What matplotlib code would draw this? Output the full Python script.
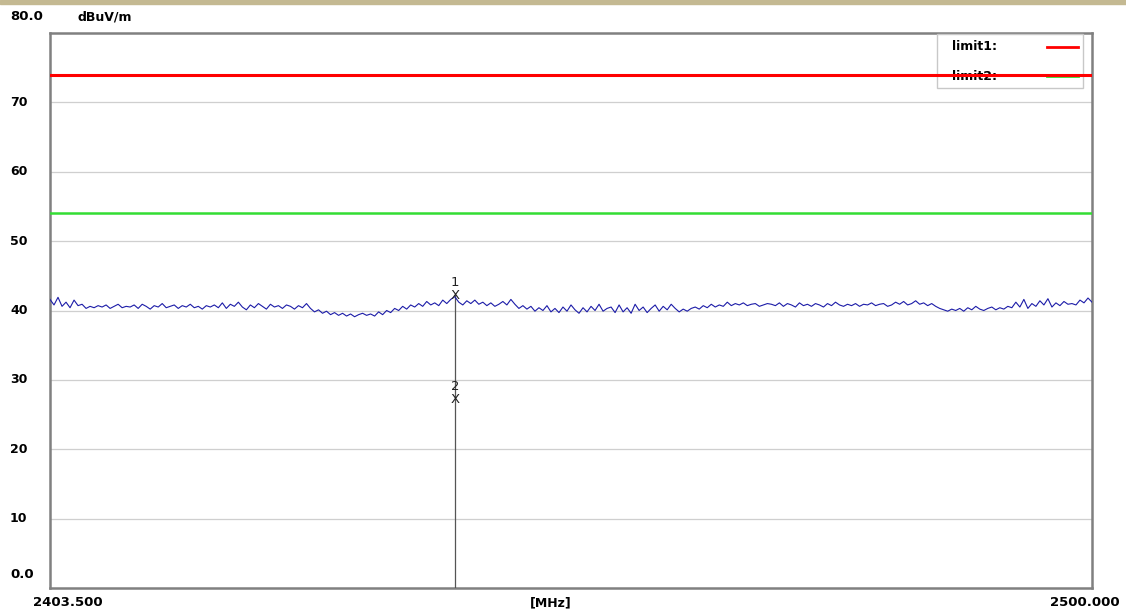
import numpy as np
import matplotlib.pyplot as plt
from matplotlib.patches import Rectangle
from matplotlib.transforms import blended_transform_factory

# sweep: 2403.5 .. 2500 MHz, level in dBuV/m
f_start = 2403.5
f_stop = 2500.0
level = [
    41.6, 40.8, 41.9, 40.6, 41.2, 40.4, 41.5, 40.7, 40.9, 40.3, 40.6, 40.4, 40.7, 40.5, 40.8, 40.3, 40.6, 40.9, 40.4, 40.6,
    40.5, 40.8, 40.3, 40.9, 40.6, 40.2, 40.7, 40.5, 41.0, 40.4, 40.6, 40.8, 40.3, 40.7, 40.5, 40.9, 40.4, 40.6, 40.2, 40.7,
    40.5, 40.8, 40.4, 41.1, 40.3, 40.9, 40.6, 41.2, 40.5, 40.1, 40.8, 40.4, 41.0, 40.6, 40.2, 40.9, 40.5, 40.7, 40.3, 40.8,
    40.6, 40.2, 40.7, 40.4, 41.0, 40.3, 39.8, 40.1, 39.6, 39.9, 39.4, 39.7, 39.3, 39.6, 39.2, 39.5, 39.1, 39.4, 39.6, 39.3,
    39.5, 39.2, 39.8, 39.4, 40.0, 39.7, 40.3, 40.0, 40.6, 40.2, 40.8, 40.5, 41.0, 40.6, 41.3, 40.8, 41.1, 40.7, 41.5, 41.0,
    41.6, 42.0, 41.2, 40.8, 41.4, 41.0, 41.5, 40.9, 41.2, 40.7, 41.1, 40.6, 40.9, 41.3, 40.8, 41.6, 40.9, 40.3, 40.7, 40.2,
    40.6, 39.9, 40.4, 40.0, 40.7, 39.8, 40.3, 39.7, 40.5, 39.9, 40.8, 40.1, 39.6, 40.4, 39.8, 40.6, 40.0, 40.9, 39.9, 40.3,
    40.5, 39.7, 40.8, 39.8, 40.4, 39.6, 40.9, 40.0, 40.5, 39.7, 40.3, 40.8, 39.9, 40.6, 40.1, 40.9, 40.3, 39.8, 40.2, 39.9,
    40.3, 40.5, 40.2, 40.7, 40.4, 40.9, 40.5, 40.8, 40.6, 41.2, 40.7, 41.0, 40.8, 41.1, 40.7, 40.9, 41.0, 40.6, 40.8, 41.0,
    40.9, 40.7, 41.1, 40.6, 41.0, 40.8, 40.5, 41.1, 40.7, 40.9, 40.6, 41.0, 40.8, 40.5, 41.0, 40.7, 41.2, 40.8, 40.6, 40.9,
    40.7, 41.0, 40.6, 40.9, 40.8, 41.1, 40.7, 40.9, 41.0, 40.6, 40.8, 41.2, 40.9, 41.3, 40.8, 41.0, 41.4, 40.9, 41.1, 40.7,
    41.0, 40.6, 40.3, 40.1, 39.9, 40.2, 40.0, 40.3, 39.9, 40.4, 40.1, 40.6, 40.2, 40.0, 40.3, 40.5, 40.1, 40.4, 40.2, 40.6,
    40.4, 41.2, 40.5, 41.6, 40.3, 41.0, 40.6, 41.4, 40.8, 41.7, 40.5, 41.1, 40.7, 41.3, 40.9, 41.0, 40.8, 41.5, 41.1, 41.8, 41.2,
]
limit1 = 74.0
limit2 = 54.0
marker_freq = 2441.0
marker_levels = [42.2, 27.2]
marker_names = ["1", "2"]
y_ticks = [10, 20, 30, 40, 50, 60, 70]

freq = np.linspace(f_start, f_stop, len(level))

fig = plt.figure(figsize=(11.26, 6.12), dpi=100)
fig.patches.append(Rectangle((0, 0.993), 1, 0.007, transform=fig.transFigure,
                             color='#c4b992', zorder=0))
ax = fig.add_axes([50/1126, 24/612, 1042/1126, 555/612])
ax.set_xlim(f_start, f_stop)
ax.set_ylim(0, 80)

for y in y_ticks:
    ax.axhline(y, color='#cfcfcf', lw=0.9, zorder=1)

ax.axhline(limit1, color='#ff0000', lw=2.2, zorder=6)
ax.axhline(limit2, color='#33dd33', lw=1.8, zorder=6)
ax.plot(freq, level, color='#1c1ca8', lw=0.8, zorder=5)

# marker line and markers
ax.plot([marker_freq, marker_freq], [0, marker_levels[0]], color='#555555', lw=0.9, zorder=4)
for name, lv in zip(marker_names, marker_levels):
    ax.text(marker_freq, lv, 'X', ha='center', va='center', fontsize=9.5, color='#222222', zorder=7)
    ax.text(marker_freq, lv + 1.9, name, ha='center', va='center', fontsize=9.5, color='#222222', zorder=7)

# legend box, drawn under the limit lines
ax.add_patch(Rectangle((0.851, 0.901), 0.14, 0.097, transform=ax.transAxes,
                       facecolor='white', edgecolor='#c8c8c8', lw=1, zorder=3))
ax.text(0.866, 0.975, 'limit1:', transform=ax.transAxes, fontsize=9, fontweight='bold',
        va='center', ha='left', zorder=3)
ax.text(0.866, 0.9225, 'limit2:', transform=ax.transAxes, fontsize=9, fontweight='bold',
        va='center', ha='left', zorder=3)
ax.plot([0.957, 0.987], [0.975, 0.975], transform=ax.transAxes, color='#ff0000', lw=2, zorder=3)
ax.plot([0.957, 0.987], [0.9225, 0.9225], transform=ax.transAxes, color='#33dd33', lw=2, zorder=3)

for s in ax.spines.values():
    s.set_color('#808080')
    s.set_linewidth(1.8)
ax.set_xticks([])
ax.set_yticks([])

tr = blended_transform_factory(fig.transFigure, ax.transData)
for y in y_ticks:
    ax.text(10/1126, y, str(y), transform=tr, fontsize=9, fontweight='bold', va='center', ha='left')
fig.text(10/1126, 1 - 17/612, '80.0', fontsize=9.5, fontweight='bold', va='center', ha='left')
fig.text(78/1126, 1 - 17/612, 'dBuV/m', fontsize=9, fontweight='bold', va='center', ha='left')
fig.text(10/1126, 1 - 574/612, '0.0', fontsize=9.5, fontweight='bold', va='center', ha='left')
fig.text(33/1126, 1 - 603/612, '2403.500', fontsize=9.5, fontweight='bold', va='center', ha='left')
fig.text(551/1126, 1 - 603/612, '[MHz]', fontsize=9, fontweight='bold', va='center', ha='center')
fig.text(1120/1126, 1 - 603/612, '2500.000', fontsize=9.5, fontweight='bold', va='center', ha='right')

fig.savefig('out.png', dpi=100)
